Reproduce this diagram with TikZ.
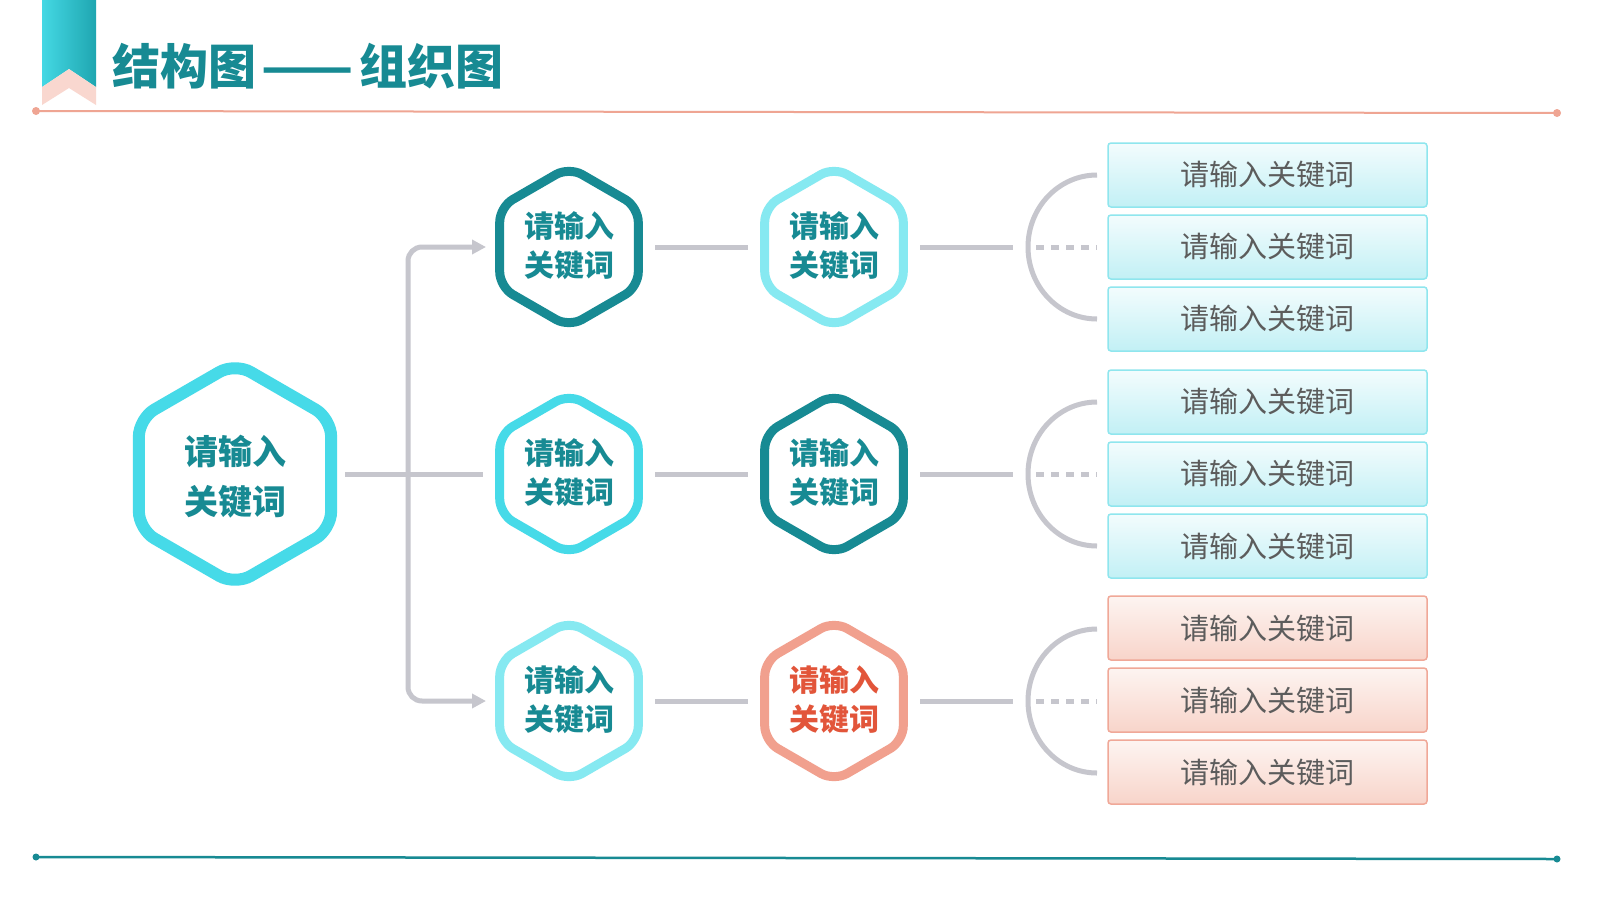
\documentclass[tikz,border=0pt]{standalone}
\usepackage{fontspec}
\usepackage{graphicx}
\newfontfamily\cjk{Noto Sans CJK SC}
\usetikzlibrary{arrows.meta,calc}
\definecolor{tealdk}{HTML}{178A93}
\definecolor{cyanmd}{HTML}{46DAE8}
\definecolor{cyanlt}{HTML}{86E9F1}
\definecolor{salm}{HTML}{F1A08E}
\definecolor{salmtext}{HTML}{E2553A}
\definecolor{conngray}{HTML}{C6C6CD}
\definecolor{txtgray}{HTML}{5C5C5C}
\definecolor{ribtop}{HTML}{1FA6B0}
\definecolor{ribbot}{HTML}{44D8E4}
\definecolor{ribpink}{HTML}{F9D7CF}
\definecolor{lineSalm}{HTML}{EFA593}
\definecolor{boxcyanB}{HTML}{8FE6EE}
\definecolor{boxcyanT}{HTML}{F3FCFD}
\definecolor{boxcyanD}{HTML}{C2F0F5}
\definecolor{boxsalmB}{HTML}{F0A898}
\definecolor{boxsalmT}{HTML}{FDF4F1}
\definecolor{boxsalmD}{HTML}{F8D4CA}
\newcommand{\hexborder}[5]{%
  \draw[draw=#3, line width=#4, rounded corners=#5, shift={(#1.center)}]
    (90:#2) -- (150:#2) -- (210:#2) -- (270:#2) -- (330:#2) -- (30:#2) -- cycle;}
\begin{document}
\begin{tikzpicture}[x=1pt,y=-1pt,
  hexlabel/.style={align=center, inner sep=0pt, text=tealdk,
    font=\cjk\bfseries\fontsize{30}{39}\selectfont},
  biglabel/.style={hexlabel, font=\cjk\bfseries\fontsize{34}{50}\selectfont},
  connline/.style={draw=conngray, line width=5pt},
  keybox/.style={minimum width=319pt, minimum height=64pt, rounded corners=3pt,
    line width=1.5pt, inner sep=0pt, text=txtgray,
    font=\cjk\fontsize{29}{29}\selectfont},
  cyanbox/.style={keybox, draw=boxcyanB, top color=boxcyanT, bottom color=boxcyanD},
  salmbox/.style={keybox, draw=boxsalmB, top color=boxsalmT, bottom color=boxsalmD},
  endline/.style={line width=2pt}
]
\useasboundingbox (0,0) rectangle (1600,900);
\fill[white] (0,0) rectangle (1600,900);

% ribbon
\shade[left color=ribbot, right color=ribtop]
  (42,0) -- (96,0) -- (96,87) -- (69,69) -- (42,87) -- cycle;
\fill[ribpink] (42,87) -- (69,69) -- (96,87) -- (96,105) -- (69,88) -- (42,105) -- cycle;

% title
\node[anchor=west, inner sep=0pt, text=tealdk,
  font=\cjk\bfseries\fontsize{48}{48}\selectfont] (title) at (112,66)
  {结构图\hspace{0.12em}\scalebox{1.12}[1]{——}\hspace{0.12em}组织图};

% top and bottom rules
\coordinate (tl1) at (36,111);
\coordinate (tl2) at (1557,113);
\draw[lineSalm, endline] (tl1) -- (tl2);
\fill[lineSalm] (tl1) circle (4) (tl2) circle (4);
\coordinate (bl1) at (36,857);
\coordinate (bl2) at (1557,859);
\draw[tealdk, line width=2.5pt] (bl1) -- (bl2);
\fill[tealdk] (bl1) circle (3.5) (bl2) circle (3.5);

% hexagon labels
\node[biglabel] (m) at (235,477) {请输入\\关键词};
\node[hexlabel] (a1) at (569,246) {请输入\\关键词};
\node[hexlabel] (a2) at (569,473) {请输入\\关键词};
\node[hexlabel] (a3) at (569,700) {请输入\\关键词};
\node[hexlabel] (b1) at (834,246) {请输入\\关键词};
\node[hexlabel] (b2) at (834,473) {请输入\\关键词};
\node[hexlabel, text=salmtext] (b3) at (834,700) {请输入\\关键词};

% hexagon borders
\coordinate (mc) at (235,474);
\coordinate (a1c) at (569,247);
\coordinate (a2c) at (569,474);
\coordinate (a3c) at (569,701);
\coordinate (b1c) at (834,247);
\coordinate (b2c) at (834,474);
\coordinate (b3c) at (834,701);
\hexborder{mc}{111}{cyanmd}{12pt}{18pt}
\hexborder{a1c}{80}{tealdk}{9pt}{15pt}
\hexborder{a2c}{80}{cyanmd}{9pt}{15pt}
\hexborder{a3c}{80}{cyanlt}{9pt}{15pt}
\hexborder{b1c}{80}{cyanlt}{9pt}{15pt}
\hexborder{b2c}{80}{tealdk}{9pt}{15pt}
\hexborder{b3c}{80}{salm}{9pt}{15pt}

% connectors from the main hexagon
\coordinate (split) at (408,474);
\draw[connline] ($(mc)+(110,0)$) -- ($(a2c)+(-86,0)$);
\draw[connline, rounded corners=14pt, -{Triangle[length=14pt,width=14pt]}]
  (split) |- ($(a1c)+(-83,0)$);
\draw[connline, rounded corners=14pt, -{Triangle[length=14pt,width=14pt]}]
  (split) |- ($(a3c)+(-83,0)$);

% column connectors
\foreach \r in {1,2,3}{
  \draw[connline] ($(a\r c)+(86,0)$) -- ($(b\r c)+(-86,0)$);
  \draw[connline] ($(b\r c)+(86,0)$) -- ($(b\r c)+(179,0)$);
}

% brackets
\coordinate (br1) at (1097,247);
\coordinate (br2) at (1097,474);
\coordinate (br3) at (1097,701);
\foreach \r in {1,2,3}{
  \draw[connline] ($(br\r)+(0,-72)$) arc[start angle=270, end angle=90, x radius=69, y radius=72];
  \draw[connline, dash pattern=on 8pt off 7pt] ($(br\r)+(-61,0)$) -- (br\r);
}

% keyword boxes
\node[cyanbox] (k11) at (1267.5,175) {请输入关键词};
\node[cyanbox] (k12) at (1267.5,247) {请输入关键词};
\node[cyanbox] (k13) at (1267.5,319) {请输入关键词};
\node[cyanbox] (k21) at (1267.5,402) {请输入关键词};
\node[cyanbox] (k22) at (1267.5,474) {请输入关键词};
\node[cyanbox] (k23) at (1267.5,546) {请输入关键词};
\node[salmbox] (k31) at (1267.5,628) {请输入关键词};
\node[salmbox] (k32) at (1267.5,700) {请输入关键词};
\node[salmbox] (k33) at (1267.5,772) {请输入关键词};
\end{tikzpicture}
\end{document}
